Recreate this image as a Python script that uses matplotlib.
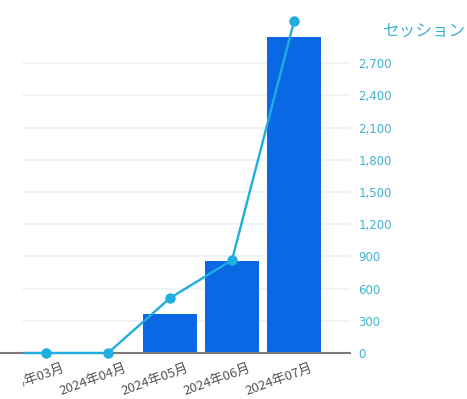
import matplotlib
matplotlib.use("Agg")
import matplotlib.pyplot as plt
import matplotlib.transforms as mtransforms
from matplotlib.patches import Rectangle
from matplotlib.ticker import FuncFormatter

plt.rcParams['font.family'] = ['Noto Sans CJK JP', 'DejaVu Sans']

categories = ["2024年02月", "2024年03月", "2024年04月", "2024年05月", "2024年06月", "2024年07月"]
bar_values = [0, 0, 0, 365, 857, 2945]
line_values = [0, 0, 0, 512, 866, 3090]
yticks = [0, 300, 600, 900, 1200, 1500, 1800, 2100, 2400, 2700]
axis_title = "セッション"

W, H = 467, 399
fig = plt.figure(figsize=(W / 100, H / 100), dpi=100)
ax = fig.add_axes([0, (H - 353) / H, 350 / W, 353 / H])

clip = Rectangle((23 / W, 0), (350 - 23) / W, 1, transform=fig.transFigure,
                 facecolor="none", edgecolor="none")
fig.add_artist(clip)
clip.set_visible(False)

x = list(range(len(categories)))
bar_color = "#0a68e4"
line_color = "#1eaee0"
text_color = "#3fb3cc"

ax.bar(x, bar_values, width=0.87, color=bar_color, zorder=2)
line, = ax.plot(x, line_values, color=line_color, lw=1.7, marker="o", ms=6.5,
                zorder=5)
line.set_clip_path(clip)

for v in yticks[1:]:
    ax.axhline(v, xmin=23 / 350, xmax=1, color="#eef1f8", lw=1.2, zorder=1)

for s in ["top", "left", "right"]:
    ax.spines[s].set_visible(False)
ax.spines["bottom"].set_color("#7a7a7a")
ax.spines["bottom"].set_linewidth(1.5)
ax.spines["bottom"].set_zorder(4)

ax.yaxis.tick_right()
ax.set_yticks(yticks)
ax.yaxis.set_major_formatter(FuncFormatter(lambda v, p: f"{int(v):,}"))
ax.tick_params(axis="y", length=0, pad=6, labelsize=8.5, labelcolor=text_color)
for lbl in ax.get_yticklabels():
    lbl.set_horizontalalignment("left")
    lbl.set_fontfamily("DejaVu Sans")

ax.set_xticks(x)
ax.set_xticklabels(categories)
ax.tick_params(axis="x", length=0, labelsize=9.5, labelcolor="#555555", pad=0)
offset = mtransforms.ScaledTranslation(-15 / 100, -27 / 100, fig.dpi_scale_trans)
for lbl in ax.get_xticklabels():
    lbl.set_rotation(20)
    lbl.set_horizontalalignment("center")
    lbl.set_verticalalignment("center")
    lbl.set_rotation_mode("anchor")
    lbl.set_transform(lbl.get_transform() + offset)
    lbl.set_clip_on(True)
    lbl.set_clip_path(clip)

ax.set_xlim(0.258, 5.903)
ax.set_ylim(0, 3289)

fig.text(383 / W, 1 - 32 / H, axis_title, ha="left", va="center",
         fontsize=12, color=text_color)

fig.savefig("out.png", dpi=100)
